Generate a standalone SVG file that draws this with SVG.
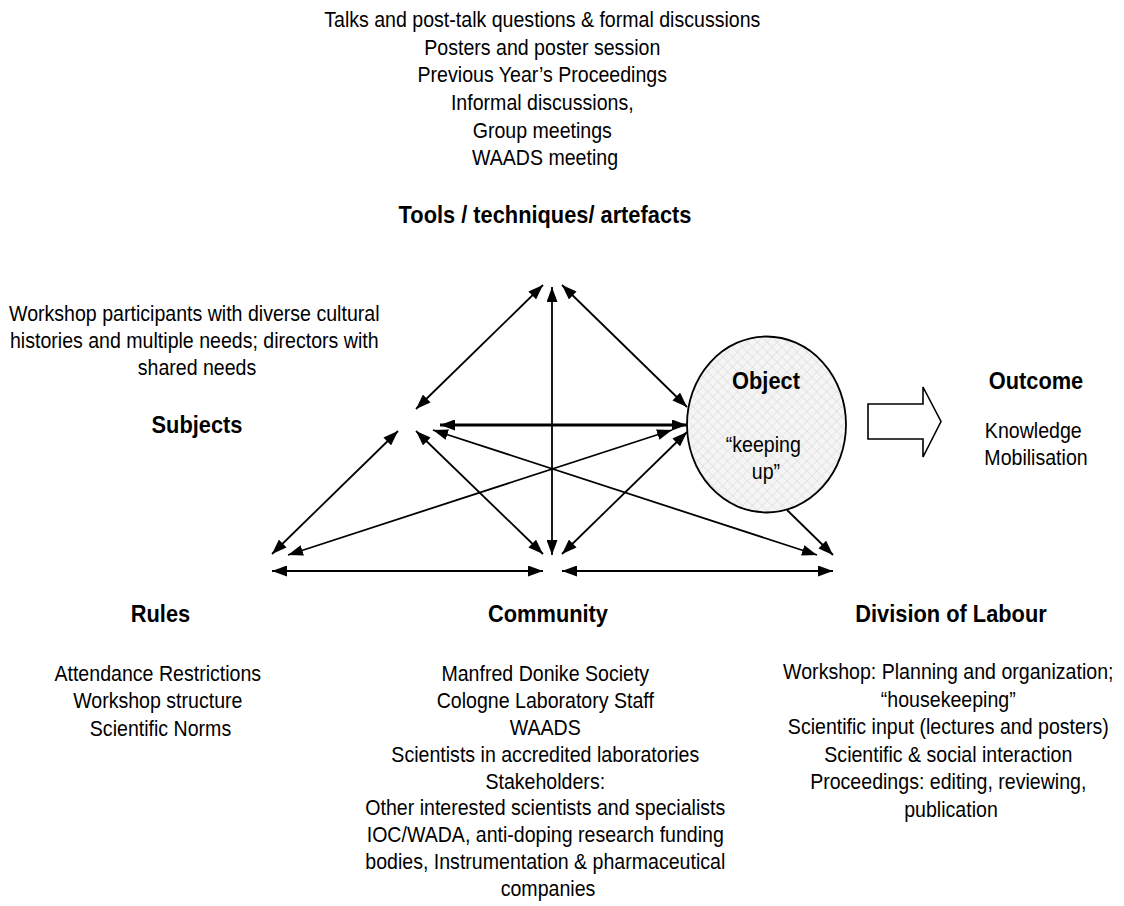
<svg xmlns="http://www.w3.org/2000/svg" width="1124" height="906" viewBox="0 0 1124 906">
  <style>
    .t { font-family: "Liberation Sans", Arial, Helvetica, sans-serif; font-size: 22px; text-anchor: middle; fill: #000; }
    .h { font-weight: bold; font-size: 24.5px; }
    .link { fill: none; stroke: #000; stroke-width: 1.8; marker-start: url(#head); marker-end: url(#head); }
    .thick { stroke-width: 3; }
  </style>
  <defs>
    <marker id="head" viewBox="0 0 15 11" refX="15" refY="5.5" markerWidth="15" markerHeight="11" markerUnits="userSpaceOnUse" orient="auto-start-reverse">
      <path d="M0,0 L15,5.5 L0,11 z" fill="#000"/>
    </marker>
    <pattern id="hatch" width="7" height="7" patternUnits="userSpaceOnUse" patternTransform="rotate(45)">
      <rect width="7" height="7" fill="#f5f5f5"/>
      <path d="M0,0 H7 M0,0 V7" stroke="#d6d6d6" stroke-width="1"/>
    </pattern>
  </defs>

  <rect width="1124" height="906" fill="#fff"/>

  <!-- Tools / techniques / artefacts -->
  <g id="tools">
    <text class="t" transform="translate(545 0) scale(0.89 1)">
      <tspan x="0" y="27.3">Talks and post-talk questions &amp; formal discussions</tspan>
      <tspan x="0" y="54.9">Posters and poster session</tspan>
      <tspan x="0" y="82.5">Previous Year’s Proceedings</tspan>
      <tspan x="0" y="110.1">Informal discussions,</tspan>
      <tspan x="0" y="137.7">Group meetings</tspan>
      <tspan x="0" y="165.3">WAADS meeting</tspan>
    </text>
    <text class="t h" transform="translate(545 0) scale(0.89 1)" x="0" y="222.7">Tools / techniques/ artefacts</text>
  </g>

  <!-- Subjects -->
  <g id="subjects">
    <text class="t" transform="translate(197 0) scale(0.89 1)">
      <tspan x="0" y="321">Workshop participants with diverse cultural</tspan>
      <tspan x="0" y="348">histories and multiple needs; directors with</tspan>
      <tspan x="0" y="375">shared needs</tspan>
    </text>
    <text class="t h" transform="translate(197 0) scale(0.89 1)" x="0" y="433">Subjects</text>
  </g>

  <!-- Object -->
  <g id="object">
    <ellipse cx="766.5" cy="424.5" rx="79.5" ry="88" fill="url(#hatch)" stroke="#000" stroke-width="1.8"/>
    <text class="t h" transform="translate(766 0) scale(0.89 1)" x="0" y="389">Object</text>
    <text class="t" transform="translate(766 0) scale(0.89 1)">
      <tspan x="0" y="451.7">“keeping</tspan>
      <tspan x="0" y="479.5">up”</tspan>
    </text>
  </g>

  <!-- Outcome -->
  <g id="outcome">
    <polygon points="868,404 923,404 923,387 941,421.5 923,457 923,439 868,439" fill="#fff" stroke="#000" stroke-width="1.6" stroke-linejoin="miter"/>
    <text class="t h" transform="translate(1036 0) scale(0.89 1)" x="0" y="389">Outcome</text>
    <text class="t" transform="translate(1036 0) scale(0.89 1)">
      <tspan x="0" y="438">Knowledge</tspan>
      <tspan x="0" y="465.5">Mobilisation</tspan>
    </text>
  </g>

  <!-- Rules -->
  <g id="rules">
    <text class="t h" transform="translate(160.5 0) scale(0.89 1)" x="0" y="621.7">Rules</text>
    <text class="t" transform="translate(160.5 0) scale(0.89 1)">
      <tspan x="0" y="680.7">Attendance Restrictions</tspan>
      <tspan x="0" y="708.2">Workshop structure</tspan>
      <tspan x="0" y="735.7">Scientific Norms</tspan>
    </text>
  </g>

  <!-- Community -->
  <g id="community">
    <text class="t h" transform="translate(548 0) scale(0.89 1)" x="0" y="621.7">Community</text>
    <text class="t" transform="translate(548 0) scale(0.89 1)">
      <tspan x="0" y="681.5">Manfred Donike Society</tspan>
      <tspan x="0" y="708.3">Cologne Laboratory Staff</tspan>
      <tspan x="0" y="735.1">WAADS</tspan>
      <tspan x="0" y="761.9">Scientists in accredited laboratories</tspan>
      <tspan x="0" y="788.7">Stakeholders:</tspan>
      <tspan x="0" y="815.5">Other interested scientists and specialists</tspan>
      <tspan x="0" y="842.3">IOC/WADA, anti-doping research funding</tspan>
      <tspan x="0" y="869.1">bodies, Instrumentation &amp; pharmaceutical</tspan>
      <tspan x="0" y="895.9">companies</tspan>
    </text>
  </g>

  <!-- Division of Labour -->
  <g id="division">
    <text class="t h" transform="translate(951 0) scale(0.89 1)" x="0" y="622">Division of Labour</text>
    <text class="t" transform="translate(951 0) scale(0.89 1)">
      <tspan x="0" y="679.5">Workshop: Planning and organization;</tspan>
      <tspan x="0" y="707">“housekeeping”</tspan>
      <tspan x="0" y="734.5">Scientific input (lectures and posters)</tspan>
      <tspan x="0" y="762">Scientific &amp; social interaction</tspan>
      <tspan x="0" y="789.5">Proceedings: editing, reviewing,</tspan>
      <tspan x="0" y="817">publication</tspan>
    </text>
  </g>

  <!-- Connectors -->
  <g id="connectors">
    <line class="link" x1="543" y1="285" x2="416" y2="409"/>
    <line class="link" x1="552" y1="287" x2="552" y2="555"/>
    <line class="link" x1="562" y1="285" x2="687" y2="407"/>
    <line class="link thick" x1="440" y1="425" x2="687" y2="425"/>
    <line class="link" x1="433" y1="430" x2="817" y2="555"/>
    <line class="link" x1="398" y1="431" x2="272" y2="554"/>
    <line class="link" x1="416" y1="431" x2="543" y2="554"/>
    <line class="link" x1="288" y1="555" x2="672" y2="430"/>
    <line class="link" x1="562" y1="554" x2="687" y2="432"/>
    <line class="link" x1="272" y1="571" x2="543" y2="571"/>
    <line class="link" x1="562" y1="571" x2="833" y2="571"/>
    <line x1="787" y1="510" x2="833" y2="555" fill="none" stroke="#000" stroke-width="1.8" marker-end="url(#head)"/>
  </g>
</svg>
